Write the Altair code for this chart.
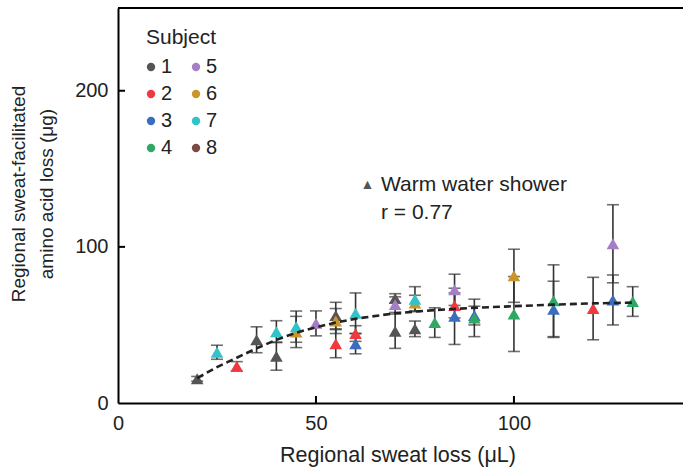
import altair as alt
import pandas as pd

# ---- data ----
subject_ids = ["1", "1", "1", "1", "1", "1", "1",
               "2", "2", "2", "2", "2",
               "3", "3", "3", "3", "3",
               "4", "4", "4", "4", "4",
               "5", "5", "5", "5",
               "6", "6", "6", "6",
               "7", "7", "7", "7", "7"]
sweat_loss = [20, 35, 40, 55, 70, 70, 75,
              30, 55, 60, 85, 120,
              60, 85, 90, 110, 125,
              80, 90, 100, 110, 130,
              50, 70, 85, 125,
              45, 55, 75, 100,
              25, 40, 45, 60, 75]
amino_loss = [15.5, 40.5, 30, 56, 67, 46, 47.5,
              23.5, 38, 44.5, 62.5, 60.5,
              38, 55.5, 56, 60, 66,
              51.5, 54.5, 57, 65.5, 65,
              51, 63, 72.5, 102,
              45.5, 52.5, 64, 81.5,
              32.5, 45.7, 48.9, 57.5, 66.5]
amino_sd = [1.5, 8.3, 9, 8.5, 3, 11, 5,
            3, 9, 5, 8, 20,
            6.5, 18, 6, 18, 16,
            9.5, 12, 24, 23, 9.5,
            8, 5, 10, 25,
            10, 8, 5, 17,
            4.5, 7, 10, 13, 8]

fit_x = [20, 25, 30, 35, 40, 45, 50, 55, 60, 70, 80, 90, 100, 110, 120, 130]
fit_y = [16, 23, 29, 35, 40.5, 45, 48.5, 51.5, 54, 57.5, 59.5, 61, 62, 63, 63.8, 64.3]

subject_domain = ["1", "2", "3", "4", "5", "6", "7", "8"]
subject_colors = ["#555555", "#ee3a3f", "#3a6dbd", "#2fa865",
                  "#a57fc6", "#c9962c", "#31c3c9", "#7b4a45"]

x_ticks = [50, 100]
y_ticks = [100, 200]
y_title_lines = ["Regional sweat-facilitated", "amino acid loss (μg)"]

# ---- tables ----
df = pd.DataFrame({"subject": subject_ids, "sweat": sweat_loss,
                   "amino": amino_loss, "sd": amino_sd})
df["lo"] = df["amino"] - df["sd"]
df["hi"] = df["amino"] + df["sd"]
caps = pd.concat([df[["sweat"]].assign(v=df["lo"]), df[["sweat"]].assign(v=df["hi"])])
fit = pd.DataFrame({"sweat": fit_x, "amino": fit_y})

W, H = 565, 395
xs = alt.Scale(domain=[0, 142.7], nice=False, zero=True)
ys = alt.Scale(domain=[0, 253], nice=False, zero=True)
ERR = "#333333"

X_AXIS = alt.Axis(title="Regional sweat loss (μL)", values=[0, 50, 100], ticks=False,
                  labelPadding=10, domainWidth=2, domainColor="#000000",
                  labelFontSize=20, titleFontSize=21.5, titlePadding=11, titleX=279.5,
                  grid=False, labelFlush=False)
Y_AXIS = alt.Axis(title="", values=[0, 100, 200], ticks=False, labelPadding=10, domainWidth=2,
                  domainColor="#000000", labelFontSize=20, grid=False, labelFlush=False)


def X(field):
    return alt.X(field, scale=xs, axis=X_AXIS)


def Y(field):
    return alt.Y(field, scale=ys, axis=Y_AXIS)


bars = alt.Chart(df).mark_rule(color=ERR, strokeWidth=1.6).encode(
    x=X("sweat:Q"), y=Y("lo:Q"), y2="hi:Q")
cap_marks = alt.Chart(caps).mark_tick(color=ERR, orient="horizontal", size=12, thickness=1.6).encode(
    x=X("sweat:Q"), y=Y("v:Q"))
points = alt.Chart(df).mark_point(shape="triangle-up", filled=True, size=160, opacity=1).encode(
    x=X("sweat:Q"),
    y=Y("amino:Q"),
    color=alt.Color("subject:N",
                    scale=alt.Scale(domain=subject_domain, range=subject_colors),
                    legend=alt.Legend(title="Subject", orient="none", legendX=28, legendY=19,
                                      columns=2, symbolType="circle", symbolSize=70,
                                      labelFontSize=20, titleFontSize=21, titleFontWeight="normal",
                                      rowPadding=7, columnPadding=18, labelOffset=0,
                                      symbolOffset=-5,
                                      titlePadding=9, padding=0, symbolStrokeWidth=0,
                                      symbolOpacity=1)),
)
fit_line = alt.Chart(fit).mark_line(color="#222222", strokeWidth=2.6, strokeDash=[7, 4]).encode(
    x=X("sweat:Q"), y=Y("amino:Q"))

xt = alt.Chart(pd.DataFrame({"t": x_ticks})).mark_rule(color="#000000", strokeWidth=2).encode(
    x=X("t:Q"), y=alt.value(H), y2=alt.value(H - 7))
yt = alt.Chart(pd.DataFrame({"t": y_ticks})).mark_rule(color="#000000", strokeWidth=2).encode(
    y=Y("t:Q"), x=alt.value(0), x2=alt.value(7))
top_border = alt.Chart(pd.DataFrame({"a": [0]})).mark_rule(color="#000000", strokeWidth=2).encode(
    x=alt.value(0), x2=alt.value(W), y=alt.value(0))

ytitle1 = alt.Chart(pd.DataFrame({"t": [y_title_lines[0]]})).mark_text(
    align="center", baseline="middle", fontSize=19, angle=270, color="#222222").encode(
    x=alt.value(19 - 118), y=alt.value(194 - 8), text="t:N")
ytitle2 = alt.Chart(pd.DataFrame({"t": [y_title_lines[1]]})).mark_text(
    align="center", baseline="middle", fontSize=19, angle=270, color="#222222").encode(
    x=alt.value(47 - 118), y=alt.value(194 - 8), text="t:N")

ann_tri = alt.Chart(pd.DataFrame({"t": ["▲"]})).mark_text(
    align="center", baseline="middle", fontSize=14, color="#555555").encode(
    x=alt.value(367.5 - 118), y=alt.value(185 - 8), text="t:N")
ann1 = alt.Chart(pd.DataFrame({"t": ["Warm water shower"]})).mark_text(
    align="left", baseline="middle", fontSize=21, color="#222222").encode(
    x=alt.value(381 - 118), y=alt.value(185 - 8), text="t:N")
ann2 = alt.Chart(pd.DataFrame({"t": ["r = 0.77"]})).mark_text(
    align="left", baseline="middle", fontSize=21, color="#222222").encode(
    x=alt.value(381 - 118), y=alt.value(213 - 8), text="t:N")

chart = alt.layer(bars, cap_marks, points, fit_line, xt, yt, top_border,
                  ytitle1, ytitle2, ann_tri, ann1, ann2).properties(
    width=W, height=H,
    autosize=alt.AutoSizeParams(type="none"),
    padding={"left": 118, "top": 8, "right": 0, "bottom": 71},
).configure(font="Liberation Sans").configure_view(stroke=None).configure_axis(
    labelColor="#222222", titleColor="#222222", titleFontWeight="normal"
).configure_legend(labelColor="#222222", titleColor="#222222")

chart.save("out.html", embed_options={"renderer": "svg", "actions": False})
